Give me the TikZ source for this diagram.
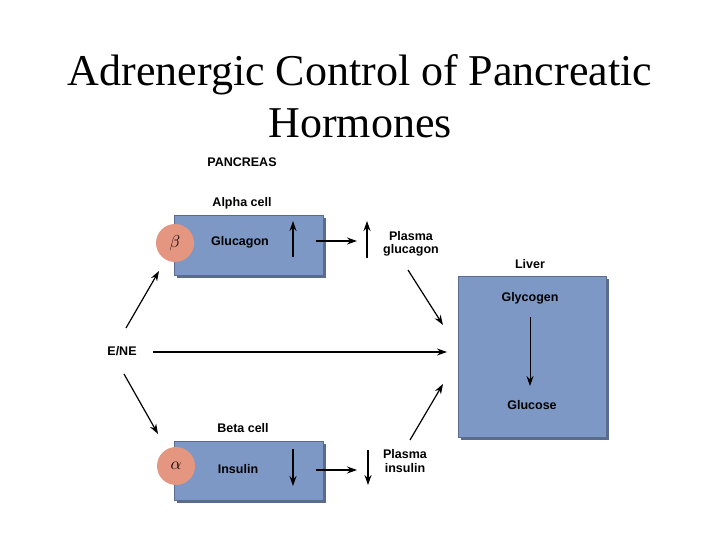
\documentclass[tikz,border=0pt]{standalone}
\usepackage{fontspec}
\setmainfont{Liberation Serif}
\newfontfamily\arial{Liberation Sans}
\usetikzlibrary{arrows.meta}
\definecolor{boxblue}{RGB}{125,152,196}
\definecolor{boxshade}{RGB}{90,108,142}
\definecolor{cellpink}{RGB}{228,150,128}
\tikzset{
  lbl/.style={font=\arial\bfseries\fontsize{12.5}{13.5}\selectfont, align=center, inner sep=0pt},
  organ/.style={fill=boxblue, draw=boxshade, line width=0.6pt},
  arr/.style={-{Stealth[length=10pt,width=7pt]}, line width=1.2pt},
  rcpt/.style={circle, fill=cellpink, minimum size=38pt, inner sep=0pt, font=\fontsize{17}{17}\selectfont\bfseries}
}
\begin{document}
\begin{tikzpicture}[x=1pt,y=-1pt]
\useasboundingbox (0,0) rectangle (720,540);
\node[font=\fontsize{44}{52}\selectfont, align=center] (title) at (360,96) {Adrenergic Control of Pancreatic\\Hormones};
\node[lbl] (pan) at (242,162) {PANCREAS};
% alpha cell
\node[lbl] (alab) at (242,203) {Alpha cell};
\fill[boxshade] (177,218) rectangle (326,278);
\draw[organ] (174,215) rectangle (323,275);
\node[rcpt] (beta) at (175,243) {$\beta$};
\node[lbl] (gluc) at (240,242) {Glucagon};
\coordinate (a1) at (293,257); \coordinate (a2) at (293,221);
\draw[arr] (a1) -- (a2);
\coordinate (a3) at (316,241); \coordinate (a4) at (357,241);
\draw[arr] (a3) -- (a4);
\coordinate (a5) at (367,258); \coordinate (a6) at (367,221);
\draw[arr] (a5) -- (a6);
\node[lbl] (pg) at (411,244) {Plasma\\glucagon};
% liver
\node[lbl] (liv) at (530,264) {Liver};
\fill[boxshade] (461,279) rectangle (609,440);
\draw[organ] (458,276) rectangle (606,437);
\node[lbl] (glyc) at (530,298) {Glycogen};
\node[lbl] (gluco) at (532,405) {Glucose};
\coordinate (g1) at (530,317); \coordinate (g2) at (530,386);
\draw[arr, line width=0.9pt] (g1) -- (g2);
% E/NE
\node[lbl] (ene) at (122,351) {E/NE};
\coordinate (e1) at (153,352); \coordinate (e2) at (447,352);
\draw[arr] (e1) -- (e2);
\coordinate (u1) at (126,328); \coordinate (u2) at (159,271);
\draw[arr] (u1) -- (u2);
\coordinate (d1) at (124,374); \coordinate (d2) at (158,434);
\draw[arr] (d1) -- (d2);
\coordinate (p1) at (408,270); \coordinate (p2) at (443,325);
\draw[arr] (p1) -- (p2);
% beta cell
\node[lbl] (blab) at (243,428) {Beta cell};
\fill[boxshade] (177,444) rectangle (326,503);
\draw[organ] (174,441) rectangle (323,500);
\node[rcpt] (alpha) at (176,466) {$\alpha$};
\node[lbl] (ins) at (238,469) {Insulin};
\coordinate (b1) at (293,449); \coordinate (b2) at (293,486);
\draw[arr] (b1) -- (b2);
\coordinate (b3) at (316,470); \coordinate (b4) at (357,470);
\draw[arr] (b3) -- (b4);
\coordinate (b5) at (368,450); \coordinate (b6) at (368,485);
\draw[arr] (b5) -- (b6);
\node[lbl] (pi) at (405,461) {Plasma\\insulin};
\coordinate (q1) at (410,440); \coordinate (q2) at (443,384);
\draw[arr] (q1) -- (q2);
\end{tikzpicture}
\end{document}
